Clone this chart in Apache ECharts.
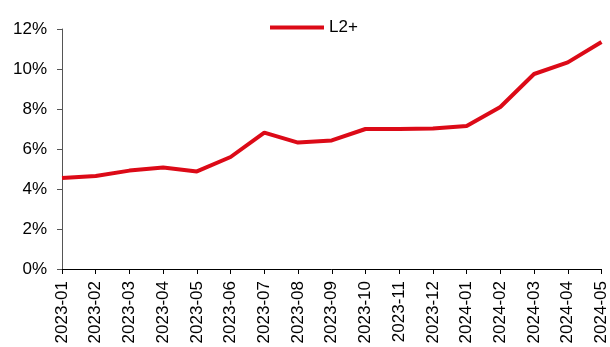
<!DOCTYPE html>
<html lang="en">
  <head>
    <meta charset="utf-8" />
    <title>L2+</title>
    <script src="https://cdn.jsdelivr.net/npm/echarts@6/dist/echarts.min.js"></script>
    <style>
      html, body { margin: 0; padding: 0; background: #fff; }
      #main { width: 610px; height: 347px; }
    </style>
  </head>
  <body>
    <div id="main"></div>
  </body>
  <script>
    // months and L2+ share (%)
    const months = ['2023-01','2023-02','2023-03','2023-04','2023-05','2023-06','2023-07','2023-08',
                    '2023-09','2023-10','2023-11','2023-12','2024-01','2024-02','2024-03','2024-04','2024-05'];
    const l2plus = [4.55, 4.65, 4.92, 5.07, 4.88, 5.6, 6.82, 6.32, 6.43, 7.0, 7.0, 7.03, 7.15, 8.1, 9.75, 10.33, 11.35];
    const seriesName = 'L2+';

    let main = echarts.init(document.getElementById('main'));
    let option = {
        animation: false,
        textStyle: { fontFamily: 'Liberation Sans, Arial, sans-serif' },
        legend: {
            data: [seriesName],
            top: 14,
            left: 265,
            itemWidth: 54,
            itemHeight: 4,
            itemGap: 6,
            icon: 'rect',
            textStyle: { fontSize: 17, color: '#000', fontFamily: 'Liberation Sans' }
        },
        grid: { left: 62, right: 8, top: 29, bottom: 78 },
        xAxis: {
            type: 'category',
            data: months,
            boundaryGap: false,
            axisLine: { lineStyle: { color: '#000', width: 1 } },
            axisTick: { show: true, alignWithLabel: true, length: 5, lineStyle: { color: '#000' } },
            axisLabel: { rotate: 90, fontSize: 17, color: '#000', margin: 12, interval: 0, fontFamily: 'Liberation Sans' },
            splitLine: { show: false }
        },
        yAxis: {
            type: 'value',
            min: 0,
            max: 12,
            interval: 2,
            axisLine: { show: true, lineStyle: { color: '#555', width: 1 } },
            axisTick: { show: true, length: 5, lineStyle: { color: '#555' } },
            axisLabel: { formatter: '{value}%', fontSize: 17, color: '#000', margin: 15, fontFamily: 'Liberation Sans' },
            splitLine: { show: false }
        },
        series: [{
            name: seriesName,
            type: 'line',
            data: l2plus,
            symbol: 'none',
            color: '#DC0A17',
            lineStyle: { width: 4, color: '#DC0A17' }
        }]
    };
    main.setOption(option);
  </script>
</html>
